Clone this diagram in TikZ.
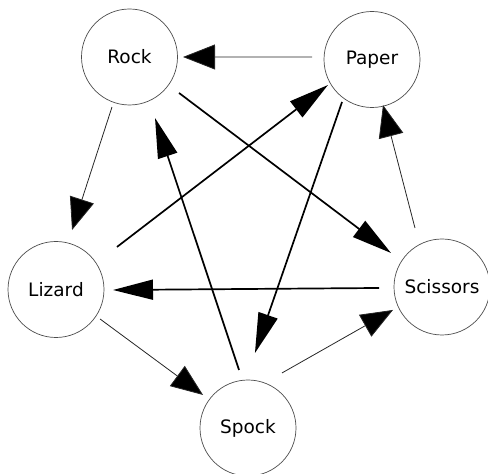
\documentclass[tikz,border=0pt]{standalone}
\usepackage{fontspec}
\setmainfont{DejaVu Sans}
\usetikzlibrary{arrows.meta}
\begin{document}
\begin{tikzpicture}[x=1pt,y=1pt,
  state/.style={circle, draw=black!70, line width=0.7pt, minimum size=96pt, inner sep=0pt, font=\fontsize{18.5}{22}\selectfont},
  thinarr/.style={line width=0.8pt, draw=black!85, -{Triangle[length=32pt,width=25pt,fill=black]}},
  thickarr/.style={line width=1.7pt, -{Triangle[length=40pt,width=20pt]}}]
\useasboundingbox (0,0) rectangle (488,474);
\node[state] (rock) at (129.5,417) {Rock};
\node[state] (paper) at (372,414.5) {Paper};
\node[state] (lizard) at (56,184.5) {Lizard};
\node[state] (scissors) at (442,187) {Scissors};
\node[state] (spock) at (248,46) {Spock};
\draw[thinarr] ([shift={(177.6:60)}]paper.center) -- ([shift={(0:53.5)}]rock.center);
\draw[thinarr] ([shift={(-109.3:53)}]rock.center) -- ([shift={(74.9:61.6)}]lizard.center);
\draw[thickarr] ([shift={(-36:61.2)}]rock.center) -- ([shift={(146.3:61.3)}]scissors.center);
\draw[thickarr] ([shift={(34.9:74.3)}]lizard.center) -- ([shift={(-149.9:50.9)}]paper.center);
\draw[thickarr] ([shift={(98.8:58.7)}]spock.center) -- ([shift={(-67.3:66.1)}]rock.center);
\draw[thickarr] ([shift={(-125.2:52)}]paper.center) -- ([shift={(84.7:75.3)}]spock.center);
\draw[thinarr] ([shift={(114.6:64.9)}]scissors.center) -- ([shift={(-76.4:46.8)}]paper.center);
\draw[thickarr] ([shift={(180.9:63)}]scissors.center) -- ([shift={(-0.5:57)}]lizard.center);
\draw[thinarr] ([shift={(-33.8:53)}]lizard.center) -- ([shift={(143.7:55.8)}]spock.center);
\draw[thinarr] ([shift={(58.3:64.7)}]spock.center) -- ([shift={(-154.9:54.1)}]scissors.center);
\end{tikzpicture}
\end{document}
